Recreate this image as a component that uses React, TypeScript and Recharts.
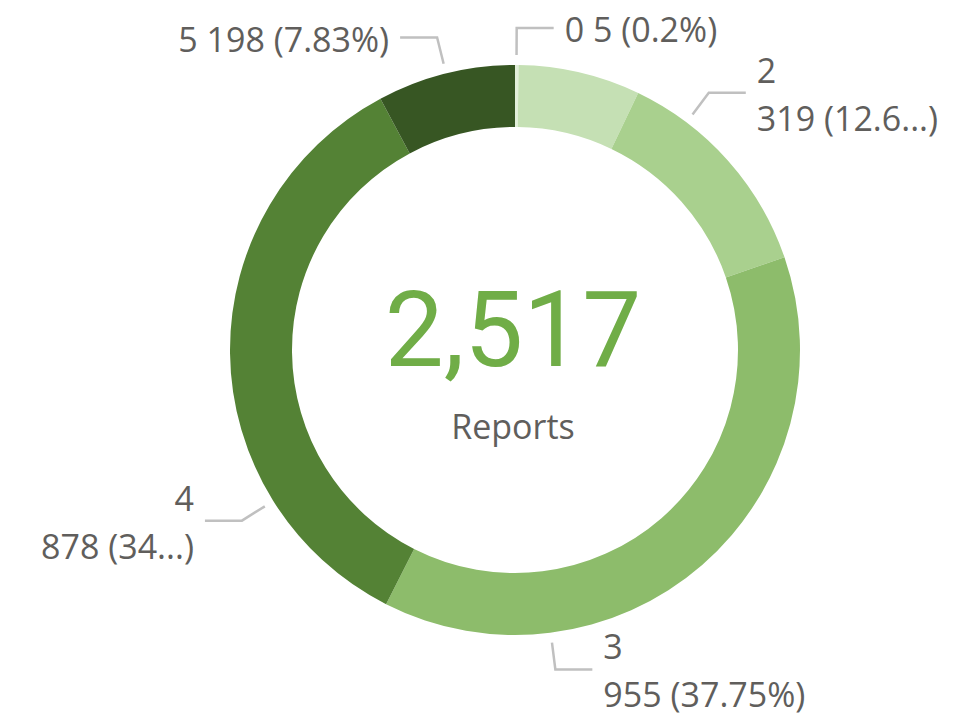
import React from 'react';
import { PieChart, Pie, Cell, Label } from 'recharts';

// ---- data ----
const categories = ['0', '1', '2', '3', '4', '5'];
const reportCounts = [5, 175, 319, 955, 878, 198];
const centerValue = 2517;
const centerCaption = 'Reports';

// ---- styles / layout ----
const sliceColors = ['#e2efda', '#c5e0b4', '#a9d08e', '#8dbc6b', '#548235', '#375623'];
// label anchor angle (degrees clockwise from 12 o'clock), null = no label
const labelAngles: (number | null)[] = [0.3, null, 37, 172.8, 238, 346];
const labelTwoLine = [false, false, true, true, true, false];
const labelKeepChars: (number | null)[] = [null, null, 9, null, 7, null];

const total = reportCounts.reduce((a, b) => a + b, 0);
const tableData = categories.map((c, i) => ({ name: c, value: reportCounts[i] }));

const TEXT_COLOR = '#605e5c';
const LINE_COLOR = '#c0c0c0';
const FONT = '"Segoe UI", "Open Sans", sans-serif';

function fmtPct(v: number) {
  return String(parseFloat(((v / total) * 100).toFixed(2)));
}

function pt(cx: number, cy: number, r: number, a: number) {
  const rad = (a * Math.PI) / 180;
  return { x: cx + r * Math.sin(rad), y: cy - r * Math.cos(rad) };
}

const renderLabel = (props: any) => {
  const { cx, cy, outerRadius, index } = props;
  const ang = labelAngles[index];
  if (ang == null) return null;
  const value = reportCounts[index];
  const cat = categories[index];
  let valText = `${value} (${fmtPct(value)}%)`;
  const keep = labelKeepChars[index];
  if (keep != null) valText = valText.slice(0, keep) + '...)';
  const s = pt(cx, cy, outerRadius + 10, ang);
  const e = pt(cx, cy, outerRadius + 37, ang);
  const right = Math.sin((ang * Math.PI) / 180) >= 0;
  const hx = e.x + (right ? 37 : -37);
  const tx = hx + (right ? 11 : -11);
  const anchor = right ? 'start' : 'end';
  return (
    <g key={`lbl-${index}`}>
      <polyline
        points={`${s.x},${s.y} ${e.x},${e.y} ${hx},${e.y}`}
        fill="none"
        stroke={LINE_COLOR}
        strokeWidth={2.5}
      />
      {labelTwoLine[index] ? (
        <g>
          <text x={tx} y={e.y - 23} textAnchor={anchor} dominantBaseline="central" fill={TEXT_COLOR} fontSize={34} fontFamily={FONT}>
            {cat}
          </text>
          <text x={tx} y={e.y + 25} textAnchor={anchor} dominantBaseline="central" fill={TEXT_COLOR} fontSize={34} fontFamily={FONT}>
            {valText}
          </text>
        </g>
      ) : (
        <text x={tx} y={e.y + 1} textAnchor={anchor} dominantBaseline="central" fill={TEXT_COLOR} fontSize={34} fontFamily={FONT}>
          {`${cat} ${valText}`}
        </text>
      )}
    </g>
  );
};

const renderCenter = (props: any) => {
  const vb = props.viewBox || {};
  const cx = vb.cx ?? 515;
  const cy = vb.cy ?? 350;
  return (
    <g>
      <text x={cx - 2} y={cy + 16} textAnchor="middle" fill="#70ad47" fontSize={105} fontFamily="Roboto, sans-serif">
        {centerValue.toLocaleString('en-US')}
      </text>
      <text x={cx - 2} y={cy + 89} textAnchor="middle" fill={TEXT_COLOR} fontSize={34} fontFamily={FONT}>
        {centerCaption}
      </text>
    </g>
  );
};

export default function App() {
  return (
    <div style={{ position: 'absolute', left: 0, top: 0, width: 977, height: 718, background: '#fff' }}>
      <PieChart width={977} height={718} margin={{ top: 0, right: 0, bottom: 0, left: 0 }}>
        <Pie
          data={tableData}
          dataKey="value"
          nameKey="name"
          cx={515}
          cy={350}
          innerRadius={223}
          outerRadius={285}
          startAngle={90}
          endAngle={-270}
          stroke="none"
          label={renderLabel}
          labelLine={false}
          isAnimationActive={false}
        >
          {tableData.map((d, i) => (
            <Cell key={d.name} fill={sliceColors[i]} />
          ))}
          <Label position="center" content={renderCenter} />
        </Pie>
      </PieChart>
    </div>
  );
}
